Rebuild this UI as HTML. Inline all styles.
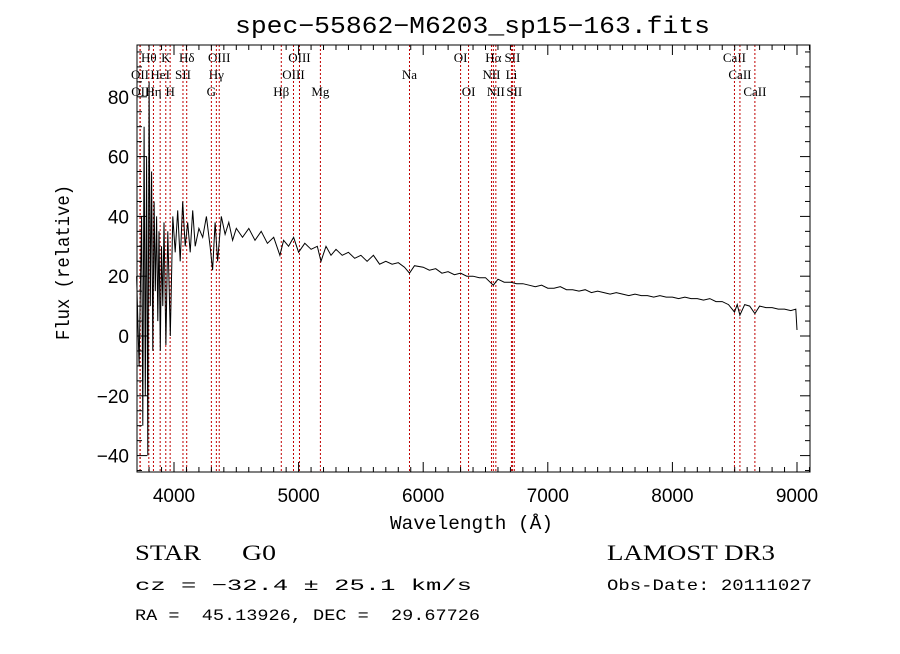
<!DOCTYPE html>
<html><head><meta charset="utf-8"><style>
body{margin:0;background:#fff;width:900px;height:649px;overflow:hidden}
svg text{font-family:"Liberation Sans",sans-serif;white-space:pre}
svg text.mono{font-family:"Liberation Mono",monospace}
svg text.serif{font-family:"Liberation Serif",serif}
svg text.ll{font-family:"Liberation Serif",serif;font-size:13px}
</style></head><body>
<svg id="c" width="900" height="649" xmlns="http://www.w3.org/2000/svg">
<text x="235" y="33" font-size="24" textLength="475" lengthAdjust="spacingAndGlyphs" class="mono">spec−55862−M6203_sp15−163.fits</text>
<text x="390" y="529" font-size="19" textLength="163" lengthAdjust="spacingAndGlyphs" class="mono">Wavelength (Å)</text>
<text transform="translate(69,340) rotate(-90)" font-size="19" textLength="155" lengthAdjust="spacingAndGlyphs" class="mono">Flux (relative)</text>
<text x="135" y="560" font-size="22" textLength="66" lengthAdjust="spacingAndGlyphs" class="serif">STAR</text>
<text x="242" y="560" font-size="22" textLength="34" lengthAdjust="spacingAndGlyphs" class="serif">G0</text>
<text x="607" y="560" font-size="22" textLength="168" lengthAdjust="spacingAndGlyphs" class="serif">LAMOST DR3</text>
<text x="135" y="590" font-size="16" textLength="337" lengthAdjust="spacingAndGlyphs" class="mono">cz = −32.4 ± 25.1 km/s</text>
<text x="607" y="590" font-size="16" textLength="205" lengthAdjust="spacingAndGlyphs" class="mono">Obs-Date: 20111027</text>
<text x="135" y="620" font-size="16" textLength="345" lengthAdjust="spacingAndGlyphs" class="mono">RA =  45.13926, DEC =  29.67726</text>
<g id="g"></g>
</svg>
<script>
const lineNames=["Hθ","K","Hδ","OIII","OIII","OI","Hα","SII","CaII","OII","HeI","SII","Hγ","OIII","Na","NII","Li","CaII","OII","Hη","H","G","Hβ","Mg","OI","NII","SII","CaII"];
const lineWaves=[3798,3934,4102,4363,5007,6300,6563,6716,8498,3727,3889,4072,4340,4959,5890,6548,6708,8542,3729,3835,3969,4300,4861,5175,6364,6583,6731,8662];
const lineRows=[0,0,0,0,0,0,0,0,0,1,1,1,1,1,1,1,1,1,2,2,2,2,2,2,2,2,2,2];
const waves=[3700,3720,3740,3750,3760,3770,3780,3790,3800,3810,3820,3830,3840,3850,3860,3870,3880,3890,3900,3910,3920,3935,3950,3970,3990,4010,4030,4050,4070,4090,4110,4130,4150,4170,4200,4230,4260,4290,4310,4330,4350,4380,4410,4440,4470,4500,4550,4600,4650,4700,4750,4800,4850,4880,4920,4960,5000,5050,5100,5150,5180,5220,5260,5300,5350,5400,5450,5500,5550,5600,5650,5700,5750,5800,5850,5890,5930,6000,6050,6100,6150,6200,6250,6300,6350,6400,6450,6500,6563,6600,6650,6700,6750,6800,6850,6900,6950,7000,7050,7100,7150,7200,7250,7300,7350,7400,7450,7500,7550,7600,7650,7700,7750,7800,7850,7900,7950,8000,8050,8100,8150,8200,8250,8300,8350,8400,8450,8498,8520,8542,8580,8620,8662,8700,8750,8800,8850,8900,8950,8990,9000];
const flux=[20,-10,40,-30,70,-20,60,-40,85,10,55,-5,45,15,40,5,35,-5,30,10,38,-3,35,0,40,28,42,25,45,30,38,28,42,30,36,33,40,30,22,38,25,40,34,38,32,36,33,36,32,35,31,33,27,32,30,33,28,31,29,30,25,30,27,29,27,28,26,27,25,27,24,25,24,24.5,23,21,23.5,23,22,22.5,21,21.5,20.5,21,20,20,19.5,19.5,17,19,18,18,17.5,17.5,17,16.5,17,16,16,16.5,15.5,15.5,15,15.5,14.5,15,14.5,14,14.5,14,13.5,14,13.5,13.5,13,13.5,13,13,12.5,13,12.5,12.5,12,12.5,11.5,11.5,10.5,8,10.5,7,10.5,10,7.5,10,9.5,9.5,9,9,8.5,9,2];
const xTicks=[4000,5000,6000,7000,8000,9000];
const yTicks=[-40,-20,0,20,40,60,80];
const L=137,R=810,T=45,B=472;
const sx=w=>174+(w-4000)*0.1246;
const sy=v=>336-v*2.99;
const g=document.getElementById('g');
const NS="http://www.w3.org/2000/svg";
function mk(t,a){const e=document.createElementNS(NS,t);for(const k in a)e.setAttribute(k,a[k]);g.appendChild(e);return e;}
lineWaves.forEach((w,i)=>{
 const l=mk('line',{x1:sx(w),x2:sx(w),y1:T,y2:B,stroke:'#c00000','stroke-width':1,'stroke-dasharray':'2,2'});
 
 
 const t=mk('text',{x:sx(w),y:62+lineRows[i]*17,'text-anchor':'middle',class:'ll'});
 t.textContent=lineNames[i];
 
 
});
let d='';waves.forEach((w,i)=>{d+=(i?'L':'M')+sx(w).toFixed(1)+','+Math.max(T,Math.min(B,sy(flux[i]))).toFixed(1);});
const p=mk('path',{d:d,fill:'none',stroke:'#000','stroke-width':1});


const f=mk('rect',{x:L,y:T,width:R-L,height:B-T,fill:'none',stroke:'#000','stroke-width':1});


for(let w=3800;w<=9100;w+=100){const big=w%1000===0,h=big?10:5;
 mk('line',{x1:sx(w),x2:sx(w),y1:B,y2:B-h,stroke:'#000'});mk('line',{x1:sx(w),x2:sx(w),y1:T,y2:T+h,stroke:'#000'});}
xTicks.forEach(w=>{const t=mk('text',{x:sx(w),y:B+30,'font-size':19,'text-anchor':'middle'});t.textContent=w;
 
 });
for(let v=-45;v<=95;v+=5){const big=v%20===0,h=big?10:5;
 mk('line',{x1:L,x2:L+h,y1:sy(v),y2:sy(v),stroke:'#000'});mk('line',{x1:R,x2:R-h,y1:sy(v),y2:sy(v),stroke:'#000'});}
yTicks.forEach(v=>{const t=mk('text',{x:L-8,y:sy(v)+7,'font-size':19,'text-anchor':'end'});t.textContent=v<0?'−'+(-v):v;
 
 });
</script>
</body></html>
